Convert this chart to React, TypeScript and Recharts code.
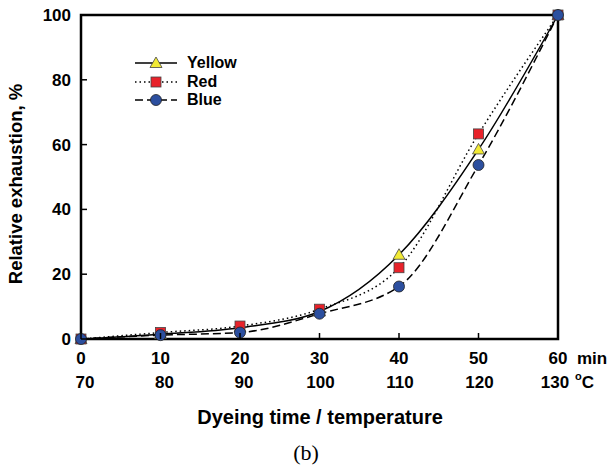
import React from 'react';
import { LineChart, Line, XAxis, YAxis, ReferenceArea, Legend } from 'recharts';

// dyeing time (min) and the matching temperature (°C)
const times = [0, 10, 20, 30, 40, 50, 60];
const temps = [70, 80, 90, 100, 110, 120, 130];
const yellow = [0, 1.5, 3.5, 8.5, 26, 58.5, 100];
const red = [0, 2, 4, 9.2, 22, 63.3, 100];
const blue = [0, 1.2, 2, 7.8, 16.2, 53.7, 100];
const yTicks = [0, 20, 40, 60, 80, 100];

const data = times.map((t, i) => ({ t, yellow: yellow[i], red: red[i], blue: blue[i] }));

const FONT = '"Liberation Sans", Arial, sans-serif';
const YELLOW = '#f2ea35';
const RED = '#e8222a';
const BLUE = '#2c4f9f';

const Triangle = ({ cx, cy }: any) => (
  <polygon points={`${cx},${cy - 6} ${cx + 6},${cy + 4.5} ${cx - 6},${cy + 4.5}`} fill={YELLOW} stroke="#444" strokeWidth={0.8} />
);
const Square = ({ cx, cy }: any) => (
  <rect x={cx - 5} y={cy - 5} width={10} height={10} fill={RED} stroke="#444" strokeWidth={0.8} />
);
const Circle = ({ cx, cy }: any) => (
  <circle cx={cx} cy={cy} r={5.5} fill={BLUE} stroke="#222" strokeWidth={0.8} />
);

const XTick = ({ x, y, payload, index }: any) => {
  const last = payload.value === 60;
  const temp = temps[index];
  const shift = last ? -3 : temp >= 100 ? 1 : 4;
  return (
    <g fontFamily={FONT} fontWeight="bold" fontSize={17} fill="#000">
      <line x1={x} x2={x} y1={y} y2={y - 6} stroke="#000" strokeWidth={1.5} />
      <text x={x} y={y + 25} textAnchor="middle">{payload.value}</text>
      <text x={x + shift} y={y + 49} textAnchor="middle">{temp}</text>
      {last && <text x={x + 19} y={y + 25}>min</text>}
      {last && (
        <text x={x + 17} y={y + 49}>
          <tspan fontSize={11} dy={-8}>o</tspan>
          <tspan fontSize={17} dy={8}>C</tspan>
        </text>
      )}
    </g>
  );
};

const YTick = ({ x, y, payload }: any) => (
  <g>
    <line x1={x} x2={x + 6} y1={y} y2={y} stroke="#000" strokeWidth={1.5} />
    <text x={x - 10} y={y + 6} textAnchor="end" fontFamily={FONT} fontWeight="bold" fontSize={17} fill="#000">
      {payload.value}
    </text>
  </g>
);

const legendItems = [
  { name: 'Yellow', dash: undefined, Marker: Triangle },
  { name: 'Red', dash: '1.5 3', Marker: Square },
  { name: 'Blue', dash: '8 4', Marker: Circle },
];

const LegendBox = () => (
  <div style={{ fontFamily: FONT, fontWeight: 'bold', fontSize: 16 }}>
    {legendItems.map(({ name, dash, Marker }) => (
      <div key={name} style={{ display: 'flex', alignItems: 'center', height: 18.5 }}>
        <svg width={52} height={16}>
          <line x1={0} x2={42} y1={8} y2={8} stroke="#000" strokeWidth={1.5} strokeDasharray={dash} />
          <Marker cx={21} cy={8} />
        </svg>
        <span>{name}</span>
      </div>
    ))}
  </div>
);

export default function App() {
  return (
    <div style={{ position: 'absolute', left: 0, top: 0, background: '#fff' }}>
      <LineChart width={609} height={466} data={data} margin={{ top: 15, right: 51, left: 31, bottom: 97 }}>
        <XAxis
          dataKey="t"
          type="number"
          domain={[0, 60]}
          ticks={times}
          tick={<XTick />}
          tickSize={0}
          tickMargin={0}
          height={30}
          axisLine={false}
          tickLine={false}
          interval={0}
          label={{
            content: () => (
              <g>
                <text x={320} y={424} textAnchor="middle" fontFamily={FONT} fontWeight="bold" fontSize={20} fill="#000">
                  Dyeing time / temperature
                </text>
                <text x={306} y={460} textAnchor="middle" fontFamily='"Liberation Serif", "Times New Roman", serif' fontSize={22} fill="#000">
                  (b)
                </text>
              </g>
            ),
          }}
        />
        <YAxis
          type="number"
          domain={[0, 100]}
          ticks={yTicks}
          tick={<YTick />}
          tickSize={0}
          tickMargin={0}
          width={50}
          axisLine={false}
          tickLine={false}
          interval={0}
          label={{
            content: () => (
              <text
                x={22}
                y={184}
                transform="rotate(-90 22 184)"
                textAnchor="middle"
                fontFamily={FONT}
                fontWeight="bold"
                fontSize={18.5}
                fill="#000"
              >
                Relative exhaustion, %
              </text>
            ),
          }}
        />
        <ReferenceArea x1={0} x2={60} y1={0} y2={100} fill="none" stroke="#000" strokeWidth={2.5} fillOpacity={0} ifOverflow="visible" />
        <Legend
          layout="horizontal"
          verticalAlign="middle"
          align="center"
          content={<LegendBox />}
          wrapperStyle={{ position: 'absolute', left: 135, top: 54, width: 'auto' }}
        />
        <Line type="monotone" dataKey="yellow" stroke="#000" strokeWidth={1.5} dot={<Triangle />} isAnimationActive={false} />
        <Line type="monotone" dataKey="red" stroke="#000" strokeWidth={1.5} strokeDasharray="1.5 3" dot={<Square />} isAnimationActive={false} />
        <Line type="monotone" dataKey="blue" stroke="#000" strokeWidth={1.5} strokeDasharray="8 4" dot={<Circle />} isAnimationActive={false} />
      </LineChart>
    </div>
  );
}
